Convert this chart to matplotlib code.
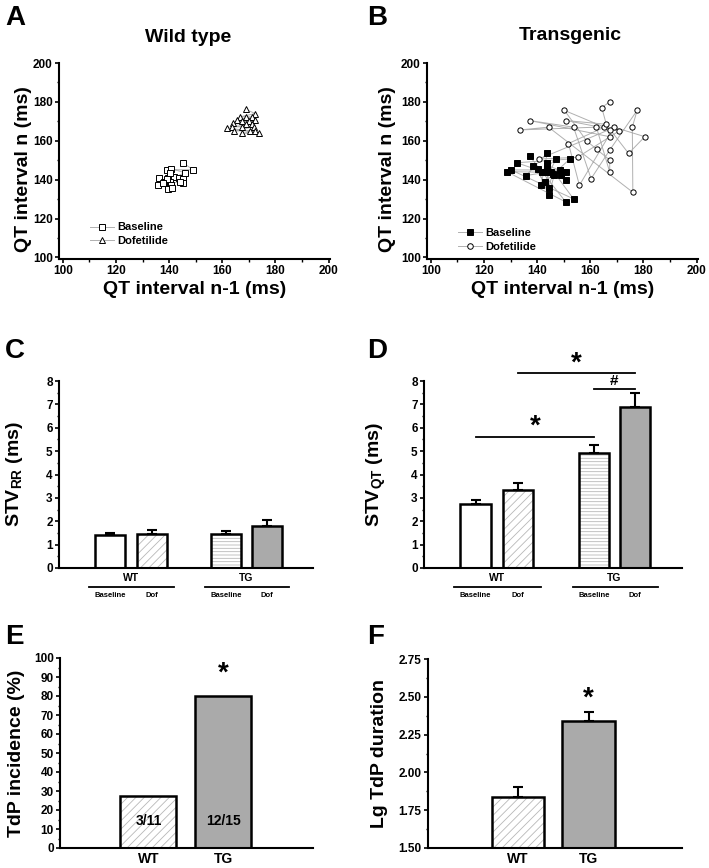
import numpy as np
import matplotlib.pyplot as plt
from matplotlib.lines import Line2D
from matplotlib.ticker import MultipleLocator
from matplotlib.transforms import blended_transform_factory

plt.rcParams['font.family'] = ['Liberation Sans', 'DejaVu Sans']
plt.rcParams['font.weight'] = 'bold'
plt.rcParams['axes.labelweight'] = 'bold'
plt.rcParams['mathtext.fontset'] = 'custom'
plt.rcParams['mathtext.rm'] = 'Liberation Sans:bold'
plt.rcParams['mathtext.bf'] = 'Liberation Sans:bold'
plt.rcParams['mathtext.default'] = 'bf'
plt.rcParams['hatch.linewidth'] = 0.6

# --- Poincare plots (QT n-1 vs QT n) ---
wt_base_x = [145.3, 148.9, 139.3, 140.8, 145.9, 135.8, 136.1, 137.9, 139.4, 140.6, 142.0,
             143.8, 145.1, 145.3, 144.0, 140.4, 139.1, 140.9, 139.5, 141.0, 137.6, 140.4]
wt_base_y = [148.7, 145.1, 145.1, 145.6, 143.6, 137.1, 140.7, 139.0, 140.7, 141.5, 141.5,
             140.7, 140.2, 138.5, 138.6, 138.6, 140.3, 137.1, 135.0, 135.7, 138.5, 143.3]
wt_dof_x = [168.9, 172.4, 166.6, 168.9, 171.0, 165.4, 167.3, 170.1, 172.3, 163.9, 169.1,
            171.3, 163.8, 167.4, 171.9, 164.4, 170.6, 172.4, 167.5, 173.8, 161.9]
wt_dof_y = [176.1, 174.0, 172.3, 172.3, 172.3, 170.6, 170.3, 170.3, 170.6, 168.9, 168.5,
            168.5, 167.2, 167.2, 167.2, 165.1, 165.1, 165.1, 163.8, 164.1, 166.7]

tg_base_x = [137.2, 150.8, 128.6, 145.3, 143.9, 153.7, 130.2, 148.6, 135.8, 143.8, 141.5,
             152.3, 132.3, 146.4, 144.4, 140.2, 150.8, 138.5, 142.8, 147.1, 141.7, 148.8,
             150.8, 143.9, 144.3, 145.8, 143.5]
tg_base_y = [152.1, 128.5, 144.1, 143.8, 148.4, 130.1, 145.0, 145.0, 142.1, 153.7, 137.1,
             150.6, 148.7, 142.2, 132.0, 145.5, 139.8, 147.2, 138.6, 150.6, 144.1, 142.2,
             143.8, 147.2, 135.6, 143.0, 144.1]
tg_dof_x = [167.3, 164.3, 167.3, 137.2, 153.7, 160.3, 167.3, 177.6, 175.8, 176.0, 144.3,
            133.7, 162.3, 167.3, 167.3, 162.4, 158.6, 150.3, 165.3, 151.8, 155.9, 168.9,
            180.5, 174.4, 165.9, 150.9, 170.9, 155.2, 140.7, 167.3]
tg_dof_y = [180.0, 177.1, 162.1, 170.4, 167.0, 140.5, 155.2, 175.6, 167.0, 133.5, 167.0,
            165.6, 167.0, 143.9, 150.1, 155.6, 160.0, 175.6, 167.0, 158.6, 137.1, 167.0,
            162.1, 153.5, 168.5, 170.4, 165.1, 151.5, 150.6, 165.8]

# --- STV bar panels ---
groups = ['WT', 'TG']
conditions = ['Baseline', 'Dof']
stv_rr = [1.40, 1.44, 1.47, 1.79]
stv_rr_err = [0.11, 0.20, 0.12, 0.25]
stv_qt = [2.73, 3.33, 4.93, 6.87]
stv_qt_err = [0.17, 0.31, 0.33, 0.63]

# --- TdP panels ---
tdp_labels = ['WT', 'TG']
tdp_incidence = [27.27, 80.0]
tdp_counts = ['3/11', '12/15']
tdp_duration = [1.838, 2.341]
tdp_duration_err = [0.066, 0.060]

W, H = 709, 868
fig = plt.figure(figsize=(W / 100, H / 100), dpi=100)


def axes_px(l, t, r, b):
    return fig.add_axes([l / W, 1 - b / H, (r - l) / W, (b - t) / H])


def clean(ax):
    ax.spines['top'].set_visible(False)
    ax.spines['right'].set_visible(False)
    for s in ('left', 'bottom'):
        ax.spines[s].set_linewidth(1.5)
    ax.tick_params(which='major', direction='out', length=3, width=1.2, labelsize=8.5, pad=1.5)
    ax.tick_params(which='minor', direction='out', length=1.8, width=1.0)


LINE_GRAY = '#b0b0b0'
HATCH_GRAY = '#b8b8b8'
FILL_GRAY = '#aaaaaa'


def poincare(ax, base, dof, mk_base, mk_dof, base_fill, leg_y):
    for (xs, ys), mk, fc in ((base, mk_base, base_fill), (dof, mk_dof, 'white')):
        ax.plot(xs, ys, '-', color=LINE_GRAY, lw=0.7, zorder=1)
        ax.plot(xs, ys, mk, ls='none', ms=4.2 if mk != 'o' else 3.8, mfc=fc, mec='k',
                mew=0.7, zorder=2)
    ax.set_xlim(98.6, 200.5)
    ax.set_ylim(99.2, 200)
    ax.xaxis.set_major_locator(MultipleLocator(20))
    ax.yaxis.set_major_locator(MultipleLocator(20))
    ax.xaxis.set_minor_locator(MultipleLocator(10))
    ax.yaxis.set_minor_locator(MultipleLocator(10))
    clean(ax)
    ax.set_xlabel('QT interval n-1 (ms)', fontsize=14, va='top')
    ax.set_ylabel('QT interval n (ms)', fontsize=14)
    ax.xaxis.set_label_coords(0.5, -0.11)
    handles = [Line2D([], [], color=LINE_GRAY, lw=0.7, marker=mk_base, ms=4, mfc=base_fill,
                      mec='k', mew=0.7),
               Line2D([], [], color=LINE_GRAY, lw=0.7, marker=mk_dof, ms=4, mfc='white',
                      mec='k', mew=0.7)]
    ax.legend(handles, ['Baseline', 'Dofetilide'], loc='upper left',
              bbox_to_anchor=(0.095, leg_y), frameon=False, fontsize=8,
              handlelength=2.1, handletextpad=0.3, labelspacing=0.32, borderpad=0)


axA = axes_px(59, 63, 330, 259)
poincare(axA, (wt_base_x, wt_base_y), (wt_dof_x, wt_dof_y), 's', '^', 'white', 0.215)
axA.yaxis.set_label_coords(-0.10, 0.46)

axB = axes_px(427, 63, 698, 259)
poincare(axB, (tg_base_x, tg_base_y), (tg_dof_x, tg_dof_y), 's', 'o', 'black', 0.185)
axB.yaxis.set_label_coords(-0.115, 0.46)

fig.text(188 / W, 1 - 37 / H, 'Wild type', fontsize=14, ha='center', va='center')
fig.text(570 / W, 1 - 35 / H, 'Transgenic', fontsize=14, ha='center', va='center')

bar_styles = [dict(fc='white', hatch=None),
              dict(fc='white', hatch='////'),
              dict(fc='white', hatch='-----'),
              dict(fc=FILL_GRAY, hatch=None)]


def styled_bars(ax, pos, vals, width, styles):
    for p, v, st in zip(pos, vals, styles):
        ax.bar(p, v, width, color=st['fc'], hatch=st['hatch'], edgecolor=HATCH_GRAY,
               linewidth=0, zorder=2)
        ax.bar(p, v, width, fill=False, edgecolor='k', linewidth=1.8, zorder=3)


def err_up(ax, pos, vals, errs):
    ax.errorbar(pos, vals, yerr=[np.zeros(len(errs)), errs], fmt='none', ecolor='k',
                elinewidth=1.5, capsize=3.5, capthick=1.5, zorder=4)


stv_pos = [1.7, 3.1, 5.6, 6.95]


def stv_panel(ax, vals, errs, ylabel):
    styled_bars(ax, stv_pos, vals, 1.0, bar_styles)
    err_up(ax, stv_pos, vals, errs)
    ax.set_xlim(0, 8.5)
    ax.set_ylim(0, 8)
    ax.set_xticks([])
    ax.yaxis.set_major_locator(MultipleLocator(1))
    ax.yaxis.set_minor_locator(MultipleLocator(0.5))
    clean(ax)
    ax.set_ylabel(ylabel, fontsize=14)
    tr = blended_transform_factory(ax.transData, ax.transAxes)
    for g, (p0, p1) in zip(groups, (stv_pos[0:2], stv_pos[2:4])):
        ax.plot([p0 - 0.7, p1 + 0.75], [-0.103, -0.103], color='k', lw=1.3,
                transform=tr, clip_on=False)
        ax.text((p0 + p1) / 2, -0.055, g, fontsize=7.5, ha='center', va='center',
                transform=tr)
        for p, c in zip((p0, p1), conditions):
            ax.text(p, -0.148, c, fontsize=5.5, ha='center', va='center', transform=tr)


axC = axes_px(59, 381, 313, 568)
stv_panel(axC, stv_rr, stv_rr_err, r'STV$_{\mathbf{RR}}$ (ms)')
axC.yaxis.set_label_coords(-0.135, 0.5)

axD = axes_px(424, 381, 682, 568)
stv_panel(axD, stv_qt, stv_qt_err, r'STV$_{\mathbf{QT}}$ (ms)')
axD.yaxis.set_label_coords(-0.14, 0.5)
sig = [(stv_pos[0], stv_pos[2], 5.61, 6.05, '*', 20),
       (stv_pos[1], stv_pos[3], 8.33, 8.75, '*', 20),
       (stv_pos[2], stv_pos[3], 7.66, 8.0, '#', 11)]
for x0, x1, yl, yt, s, fs in sig:
    axD.plot([x0, x1], [yl, yl], color='k', lw=1.3, clip_on=False)
    axD.text((x0 + x1) / 2, yt, s, fontsize=fs, ha='center', va='center')

tdp_pos = [1.58, 2.92]
tdp_styles = [bar_styles[1], bar_styles[3]]

axE = axes_px(60, 658, 313, 848)
styled_bars(axE, tdp_pos, tdp_incidence, 1.0, tdp_styles)
axE.set_xlim(0, 4.52)
axE.set_ylim(0, 100)
axE.yaxis.set_major_locator(MultipleLocator(10))
axE.yaxis.set_minor_locator(MultipleLocator(5))
clean(axE)
axE.set_xticks(tdp_pos, tdp_labels, fontsize=10)
axE.tick_params(axis='x', length=0, pad=3)
axE.set_ylabel('TdP incidence (%)', fontsize=14)
axE.yaxis.set_label_coords(-0.138, 0.5)
for p, c in zip(tdp_pos, tdp_counts):
    axE.text(p, 14.3, c, fontsize=10, ha='center', va='center', zorder=5)
axE.text(tdp_pos[1], 92, '*', fontsize=20, ha='center', va='center')

axF = axes_px(428, 659, 682, 848)
styled_bars(axF, [1.71, 3.05], tdp_duration, 1.0, tdp_styles)
err_up(axF, [1.71, 3.05], tdp_duration, tdp_duration_err)
axF.set_xlim(0, 4.82)
axF.set_ylim(1.5, 2.75)
axF.yaxis.set_major_locator(MultipleLocator(0.25))
axF.yaxis.set_minor_locator(MultipleLocator(0.125))
axF.yaxis.set_major_formatter('{x:.2f}')
clean(axF)
axF.set_xticks([1.71, 3.05], tdp_labels, fontsize=10)
axF.tick_params(axis='x', length=0, pad=3)
axF.set_ylabel('Lg TdP duration', fontsize=14)
axF.yaxis.set_label_coords(-0.157, 0.5)
axF.text(3.05, 2.49, '*', fontsize=20, ha='center', va='center')

for letter, (lx, ly) in zip('ABCDEF', [(5, 5), (367, 5), (5, 338), (367, 338),
                                       (5, 624), (367, 624)]):
    fig.text(lx / W, 1 - ly / H, letter, fontsize=20, ha='left', va='top')

fig.savefig('out.png', dpi=100)
